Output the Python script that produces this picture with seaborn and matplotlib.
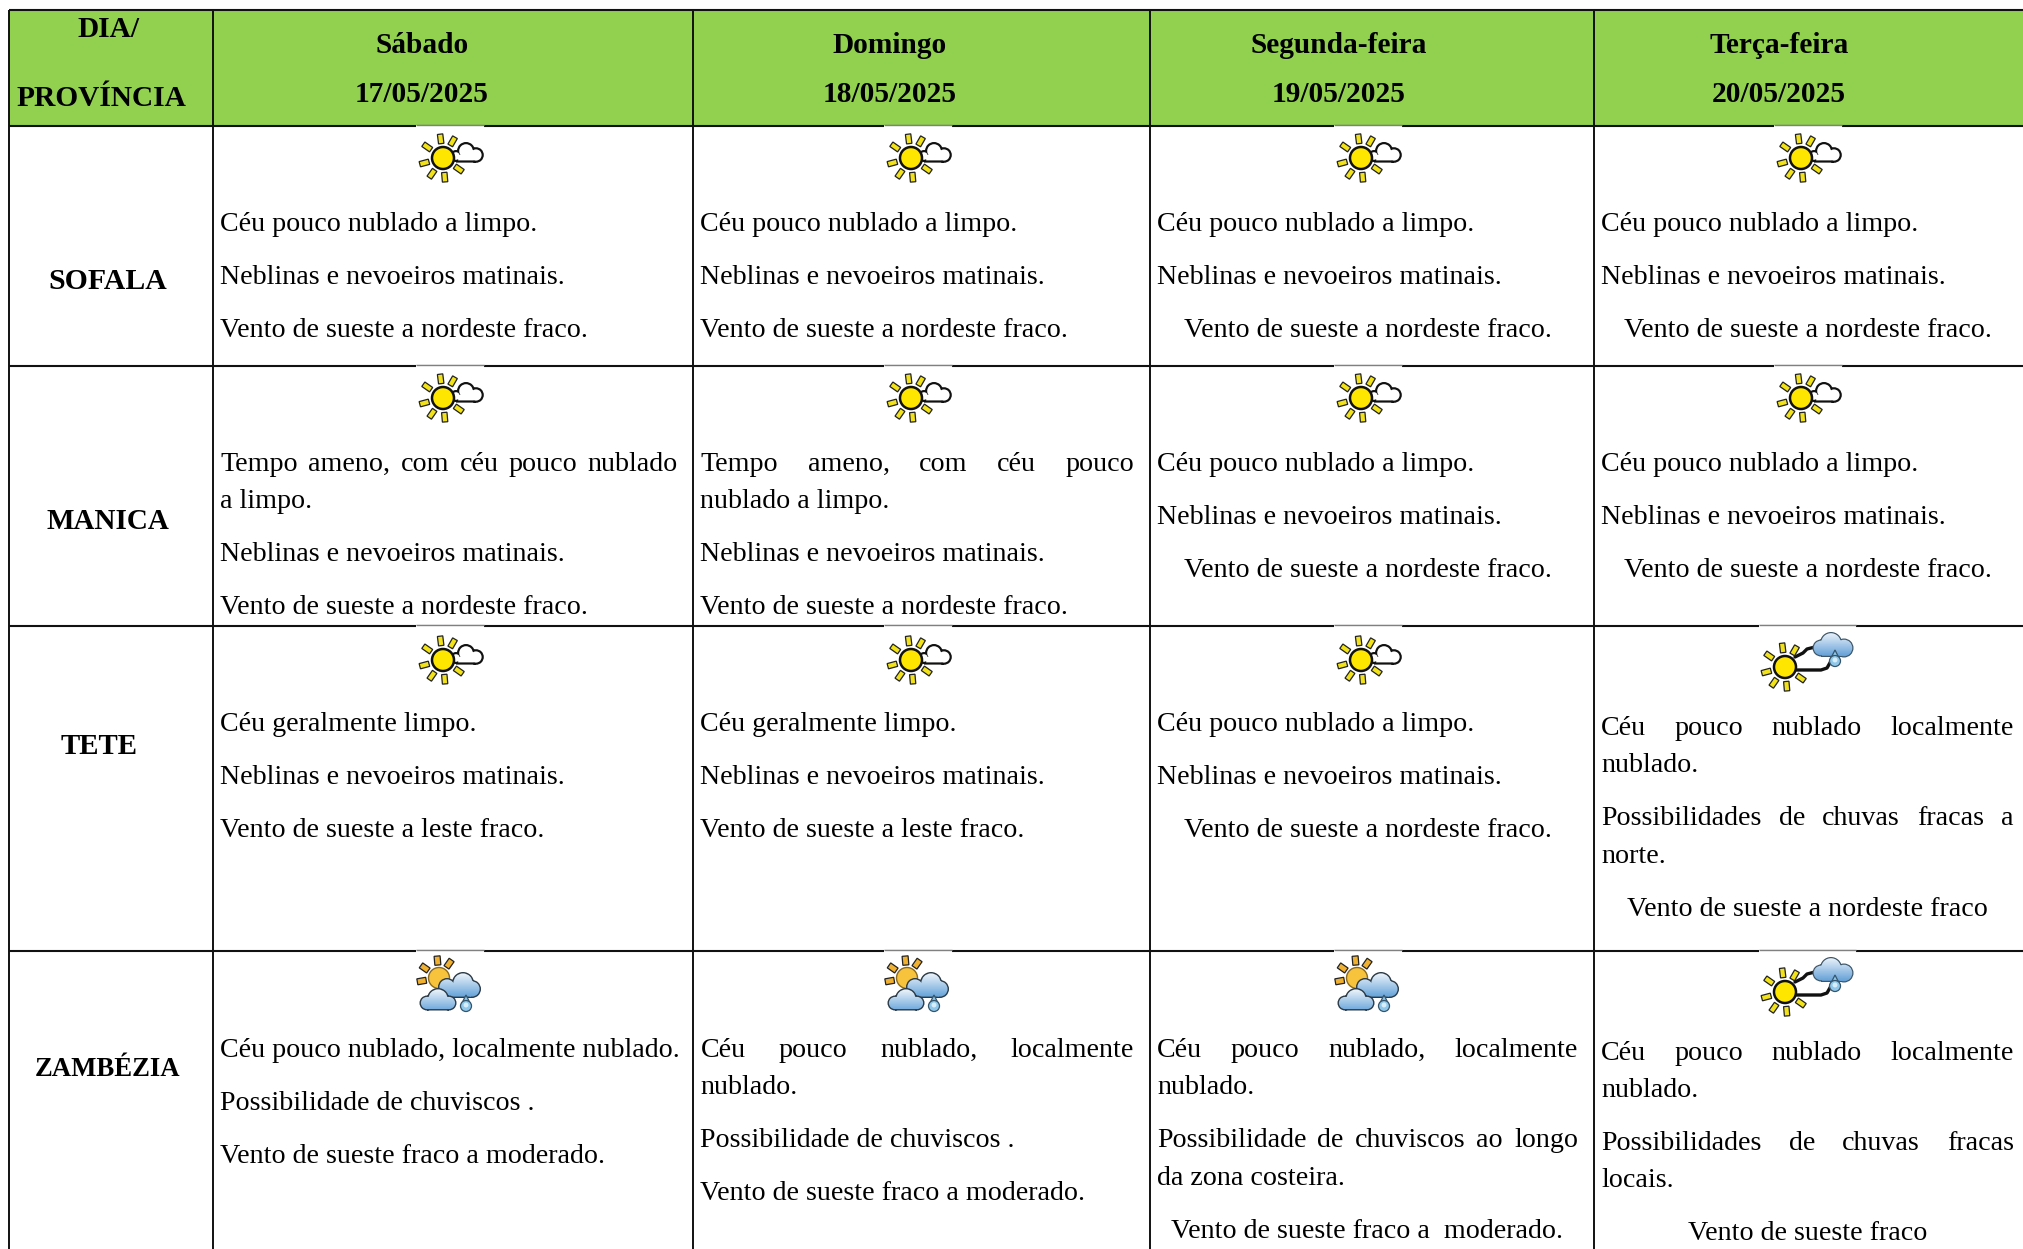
import numpy as np
import seaborn as sns
import matplotlib
matplotlib.use("Agg")
import matplotlib.pyplot as plt
from matplotlib.colors import ListedColormap, LinearSegmentedColormap
from matplotlib.patches import PathPatch, Polygon, Circle, Rectangle
from matplotlib.path import Path

# table content
days = ["Sábado", "Domingo", "Segunda-feira", "Terça-feira"]
dates = ["17/05/2025", "18/05/2025", "19/05/2025", "20/05/2025"]
provinces = ["SOFALA", "MANICA", "TETE", "ZAMBÉZIA"]

sofala = [
    ["Céu pouco nublado a limpo.", "Neblinas e nevoeiros matinais.", "Vento de sueste a nordeste fraco."],
    ["Céu pouco nublado a limpo.", "Neblinas e nevoeiros matinais.", "Vento de sueste a nordeste fraco."],
    ["Céu pouco nublado a limpo.", "Neblinas e nevoeiros matinais.", "Vento de sueste a nordeste fraco."],
    ["Céu pouco nublado a limpo.", "Neblinas e nevoeiros matinais.", "Vento de sueste a nordeste fraco."],
]
manica = [
    ["Tempo ameno, com céu pouco nublado\na limpo.", "Neblinas e nevoeiros matinais.", "Vento de sueste a nordeste fraco."],
    ["Tempo ameno, com céu pouco\nnublado a limpo.", "Neblinas e nevoeiros matinais.", "Vento de sueste a nordeste fraco."],
    ["Céu pouco nublado a limpo.", "Neblinas e nevoeiros matinais.", "Vento de sueste a nordeste fraco."],
    ["Céu pouco nublado a limpo.", "Neblinas e nevoeiros matinais.", "Vento de sueste a nordeste fraco."],
]
tete = [
    ["Céu geralmente limpo.", "Neblinas e nevoeiros matinais.", "Vento de sueste a leste fraco."],
    ["Céu geralmente limpo.", "Neblinas e nevoeiros matinais.", "Vento de sueste a leste fraco."],
    ["Céu pouco nublado a limpo.", "Neblinas e nevoeiros matinais.", "Vento de sueste a nordeste fraco."],
    ["Céu pouco nublado localmente\nnublado.", "Possibilidades de chuvas fracas a\nnorte.", "Vento de sueste a nordeste fraco"],
]
zambezia = [
    ["Céu pouco nublado, localmente nublado.", "Possibilidade de chuviscos .", "Vento de sueste fraco a moderado."],
    ["Céu pouco nublado, localmente\nnublado.", "Possibilidade de chuviscos .", "Vento de sueste fraco a moderado."],
    ["Céu pouco nublado, localmente\nnublado.", "Possibilidade de chuviscos ao longo\nda zona costeira.", "Vento de sueste fraco a  moderado."],
    ["Céu pouco nublado localmente\nnublado.", "Possibilidades de chuvas fracas\nlocais.", "Vento de sueste fraco"],
]
cells = [sofala, manica, tete, zambezia]

# which icon goes where: a = sun and cloud, b = clouds with drizzle, c = sun with rain cloud
icons = [
    ["a", "a", "a", "a"],
    ["a", "a", "a", "a"],
    ["a", "a", "a", "c"],
    ["b", "b", "b", "c"],
]

# layout, in pixels of the 2023x1249 picture
col_edges = [0, 9, 213, 693, 1150, 1594, 2023]
row_edges = [0, 10, 126, 366, 626, 951, 1249]
text_left = [220.5, 700.5, 1157, 1601]
text_right = [678, 1134, 1578, 2014]
first_base = [231, 471, 731, 1057]
terca_extra = [0, 0, 4, 2.5]
day_x = [422, 890, 1339, 1779]
prov_x = [108, 108, 99, 108]
prov_base = [289, 529, 754, 1076]
prov_size = [21.4, 21.0, 20.8, 19.3]
sun_x = [443, 911, 1361, 1801]
sun_y = {"a": [158, 398, 660, 0], "b": [0, 0, 0, 978], "c": [0, 0, 667, 992]}
sun_x_c = 1785
sun_x_b = [439, 907, 1357]

BODY = 20.2
HEAD = 21.2
INK = "#000000"
FONT = "Liberation Serif"


def text_width(ax, renderer, s, **kw):
    t = ax.text(0, 0, s, **kw)
    w = t.get_window_extent(renderer).width
    t.remove()
    return w


def justified(ax, renderer, line, left, right, y):
    """Spread the words of one line out to the two edges of the cell."""
    words = line.split()
    widths = [text_width(ax, renderer, w, fontsize=BODY, family=FONT) for w in words]
    gap = (right - left - sum(widths)) / (len(words) - 1)
    x = left
    for w, wd in zip(words, widths):
        ax.text(x, y, w, fontsize=BODY, family=FONT, color=INK, va="baseline", ha="left")
        x += wd + gap


def draw_cell(ax, renderer, paragraphs, col, y):
    left, right = text_left[col], text_right[col]
    for p, par in enumerate(paragraphs):
        lines = par.split("\n")
        for i, line in enumerate(lines):
            if i < len(lines) - 1:
                justified(ax, renderer, line, left, right, y)
            elif col >= 2 and p == 2:
                ax.text((left + right) / 2, y, line, fontsize=BODY, family=FONT, color=INK, va="baseline", ha="center")
            else:
                ax.text(left, y, line, fontsize=BODY, family=FONT, color=INK, va="baseline", ha="left")
            y += 37.4 if i < len(lines) - 1 else 53


def blob(circles, rects):
    parts = [Path.circle((x, y), r) for x, y, r in circles]
    for x0, y0, x1, y1 in rects:
        parts.append(Path([(x0, y0), (x1, y0), (x1, y1), (x0, y1), (x0, y0)], closed=True))
    return Path.make_compound_path(*parts)


def cloud(ax, cx, cy, circles, rects, top, bottom, edge="#2b3a46", pad=1.4, z=5):
    ax.add_patch(PathPatch(blob([(cx + x, cy + y, r) for x, y, r in circles],
                               [(cx + a, cy + b, cx + c, cy + d) for a, b, c, d in rects]),
                           fc=edge, lw=0, zorder=z))
    inner = blob([(cx + x, cy + y, r - pad) for x, y, r in circles],
                 [(cx + a + pad, cy + b, cx + c - pad, cy + d - pad) for a, b, c, d in rects])
    clip = PathPatch(inner, fc="none", lw=0, transform=ax.transData, zorder=z)
    ax.add_patch(clip)
    ys = [cy + y - r for x, y, r in circles]
    lows = [cy + d for a, b, c, d in rects]
    xs0 = [cx + x - r for x, y, r in circles]
    xs1 = [cx + x + r for x, y, r in circles]
    grad = np.linspace(0, 1, 64).reshape(-1, 1)
    cmap = LinearSegmentedColormap.from_list("cl", [top, bottom])
    im = ax.imshow(grad, cmap=cmap, aspect="auto", zorder=z + 0.1, interpolation="bilinear",
                   extent=[min(xs0), max(xs1), max(lows), min(ys)])
    im.set_clip_path(clip)


def rays(ax, cx, cy, angles, r0, r1, width, color, z=7):
    for a in angles:
        t = np.deg2rad(a)
        d = np.array([np.cos(t), -np.sin(t)])
        n = np.array([d[1], -d[0]]) * width / 2
        c = np.array([cx, cy])
        pts = [c + d * r0 + n, c + d * r1 + n, c + d * r1 - n, c + d * r0 - n]
        ax.add_patch(Polygon(pts, closed=True, fc=color, ec="#222222", lw=0.9, zorder=z))


def drop(ax, x, y, r, tip, fc="#8fc8ea"):
    verts = [(x - r, y), (x - r * 0.5, y - tip * 0.5), (x, y - tip), (x + r * 0.5, y - tip * 0.5), (x + r, y)]
    codes = [Path.MOVETO, Path.CURVE3, Path.CURVE3, Path.CURVE3, Path.CURVE3]
    ax.add_patch(PathPatch(Path(verts, codes), fc=fc, ec="#35556b", lw=0.9, zorder=8))
    ax.add_patch(Circle((x, y), r, fc=fc, ec="#35556b", lw=0.9, zorder=8))
    ax.add_patch(Circle((x, y - 1), r * 0.45, fc="#d8eefa", lw=0, zorder=8.1))


def icon_sun_cloud(ax, x, y):
    cloud(ax, x, y, [(23, -7, 9), (33, -3, 7.8), (13, -2, 6)], [(13, -3, 33, 4.6)], "white", "white",
          edge="#111111", pad=2.2)
    rays(ax, x, y, [97, 60, 145, 195, 235, 275, 325], 14.5, 24, 5.4, "#f2e21a")
    ax.add_patch(Circle((x, y), 11, fc="#ffe600", ec="#111111", lw=1.8, zorder=8))


def icon_drizzle(ax, x, y):
    rays(ax, x, y, [95, 55, 145, 190], 13, 22, 6, "#f0b030", z=4)
    ax.add_patch(Circle((x, y), 10.5, fc="#f7c33c", ec="#8a6a20", lw=1, zorder=4))
    cloud(ax, x, y, [(24, 5, 11), (33, 11, 9), (8, 9, 9)], [(8, 8, 33, 20)], "#f4f8fc", "#5f9fd8", z=5)
    cloud(ax, x, y, [(-1, 21, 11), (-12, 25, 7.5), (10, 25, 7.5)], [(-12, 22, 10, 32.5)], "#f4f8fc", "#6aa6dc", z=6)
    drop(ax, x + 27, y + 28, 5.5, 11)


def icon_rain(ax, x, y):
    link = dict(color="#111111", lw=2.4, zorder=5, solid_capstyle="round")
    ax.plot([x + 10, x + 18, x + 22, x + 30], [y - 10, y - 14, y - 18, y - 20], **link)
    ax.plot([x + 10, x + 36, x + 42, x + 46], [y + 3, y + 3, y + 1, y - 6], **link)
    cloud(ax, x, y, [(46, -24, 11), (59, -19, 9.5), (36, -19, 8.5)], [(36, -20, 59, -10)], "#eef5fb", "#5f9dd6",
          edge="#3d5566", pad=1.2)
    drop(ax, x + 50, y - 6, 5.5, 11)
    rays(ax, x, y, [97, 60, 145, 195, 235, 275, 325], 14.5, 24, 5.4, "#f2e21a")
    ax.add_patch(Circle((x, y), 11, fc="#ffe600", ec="#111111", lw=1.8, zorder=8))


def main():
    sns.set_theme(style="white")
    plt.rcParams["font.family"] = [FONT, "DejaVu Sans"]

    fig = plt.figure(figsize=(20.23, 12.49), dpi=100)
    ax = fig.add_axes([0, 0, 1, 1])

    # background through a pixel-sized heatmap: 1 = green header, 0 = white
    shade = np.zeros((6, 6))
    shade[1, 1:] = 1
    grid = np.repeat(np.repeat(shade, np.diff(row_edges), axis=0), np.diff(col_edges), axis=1)
    sns.heatmap(grid, ax=ax, cmap=ListedColormap(["white", "#92d050"]), vmin=0, vmax=1, cbar=False,
                xticklabels=False, yticklabels=False, rasterized=True)
    w, h = col_edges[-1], row_edges[-1]

    ax.hlines(row_edges[1:-1], col_edges[1], w, color="#111111", lw=1.5, zorder=2)
    ax.vlines(col_edges[1:-1], row_edges[1], h, color="#111111", lw=1.4, zorder=2)

    renderer = fig.canvas.get_renderer()

    # header
    ax.text(108, 37, "DIA/", fontsize=HEAD, weight="bold", family=FONT, ha="center", va="baseline", color=INK)
    ax.text(101, 106, "PROVÍNCIA", fontsize=HEAD, weight="bold", family=FONT, ha="center", va="baseline", color=INK)
    for x, day, date in zip(day_x, days, dates):
        ax.text(x, 53, day, fontsize=HEAD, weight="bold", family=FONT, ha="center", va="baseline", color=INK)
        ax.text(x, 102, date, fontsize=HEAD, weight="bold", family=FONT, ha="center", va="baseline", color=INK)

    for r, prov in enumerate(provinces):
        ax.text(prov_x[r], prov_base[r], prov, fontsize=prov_size[r], weight="bold", family=FONT, ha="center",
                va="baseline", color=INK)
        for c in range(4):
            y = first_base[r] + (terca_extra[r] if c == 3 else 0)
            draw_cell(ax, renderer, cells[r][c], c, y)

            kind = icons[r][c]
            top = row_edges[r + 2]
            if kind == "a":
                x0, x1 = sun_x[c] - 27, sun_x[c] + 41
                icon_sun_cloud(ax, sun_x[c], sun_y["a"][r])
            elif kind == "b":
                x0, x1 = sun_x_b[c] - 23, sun_x_b[c] + 45
                icon_drizzle(ax, sun_x_b[c], sun_y["b"][r])
            else:
                x0, x1 = sun_x_c - 26, sun_x_c + 71
                icon_rain(ax, sun_x_c, sun_y["c"][r])
            # the pasted icon box eats a little of the rule above it
            ax.add_patch(Rectangle((x0, top - 1.5), x1 - x0, 3, fc="white", lw=0, zorder=3))
            ax.hlines(top - 1, x0, x1, color="#808080", lw=1.0, zorder=3.1)

    ax.set_xlim(0, w)
    ax.set_ylim(h, 0)
    ax.axis("off")
    fig.savefig("out.png", dpi=100)
    plt.close(fig)


if __name__ == "__main__":
    main()
